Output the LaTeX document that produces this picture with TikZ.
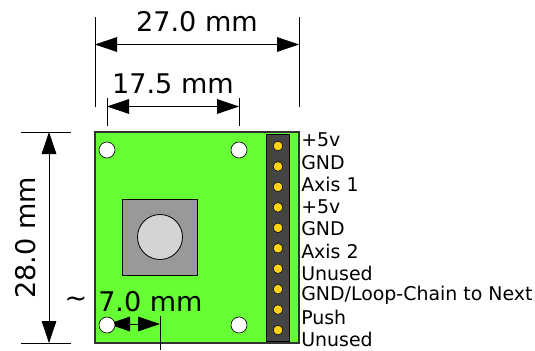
\documentclass[tikz,border=0pt]{standalone}
\usepackage{fontspec}
\setmainfont{DejaVu Sans}
\usetikzlibrary{arrows.meta}
\definecolor{boardgreen}{HTML}{66FF33}
\definecolor{headergray}{HTML}{444444}
\definecolor{pinyellow}{HTML}{FFD414}
\tikzset{
    board/.style = {draw=black!80, fill=boardgreen, line width=0.8pt},
    hole/.style = {circle, draw=black, fill=white, line width=0.5pt, minimum size=12pt, inner sep=0pt},
    pin/.style = {circle, draw=black, fill=pinyellow, line width=0.4pt, minimum size=7.2pt, inner sep=0pt},
    tick/.style = {draw=black, line width=0.6pt},
    dimline/.style = {draw=black, line width=0.6pt, {Triangle[length=16.5pt,width=11pt]}-{Triangle[length=16.5pt,width=11pt]}},
    dimtext/.style = {font=\fontsize{20.3pt}{22pt}\selectfont, inner sep=0pt},
    pinlabel/.style = {font=\fontsize{14.2pt}{16pt}\selectfont, anchor=west, inner sep=0pt}
}
\begin{document}
\begin{tikzpicture}[x=0.75pt, y=-0.75pt]
    \useasboundingbox (0,0) rectangle (535,350);
    % board and parts
    \draw[board] (95,132) rectangle (299,343);
    \draw[draw=black, fill=gray!80!white, line width=0.6pt] (122,199) rectangle (197.5,275);
    \draw[draw=black, fill=black!17, line width=0.6pt] (160,237) circle (22.5);
    \draw[draw=black, fill=headergray, line width=0.6pt] (266,134.5) rectangle (289.5,341);
    % 7.0 mm
    \coordinate (offsetL) at (108,324);
    \coordinate (offsetR) at (160,324);
    \draw[tick] (160,316) -- (160,350);
    \draw[dimline] (offsetL) -- (offsetR);
    \node[dimtext] (approx) at (76,302) {\symbol{126}};
    \node[dimtext, anchor=west] (offsettext) at (98,302) {7.0 mm};
    % holes
    \node[hole] (holeTL) at (107,150) {};
    \node[hole] (holeTR) at (239,150) {};
    \node[hole] (holeBL) at (107,325) {};
    \node[hole] (holeBR) at (239,325) {};
    % header pins and their labels
    \foreach \name [count=\i from 0] in {+5v, GND, Axis 1, +5v, GND, Axis 2, Unused, GND/Loop-Chain to Next, Push, Unused} {
        \node[pin] (pin\i) at (278,146+20.45*\i) {};
        \node[pinlabel] (label\i) at (301,140+22.2*\i) {\name};
    }
    % 27.0 mm
    \coordinate (widthL) at (95,44.5);
    \coordinate (widthR) at (299,44.5);
    \draw[tick] (95,17) -- (95,107);
    \draw[tick] (299,17) -- (299,107);
    \draw[dimline] (widthL) -- (widthR);
    \node[dimtext] (widthtext) at (197,22) {27.0 mm};
    % 17.5 mm
    \coordinate (spanL) at (107,106.5);
    \coordinate (spanR) at (239,106.5);
    \draw[tick] (107,98) -- (107,126);
    \draw[tick] (239,98) -- (239,126);
    \draw[dimline] (spanL) -- (spanR);
    \node[dimtext] (spantext) at (173,84) {17.5 mm};
    % 28.0 mm
    \coordinate (heightT) at (49,132);
    \coordinate (heightB) at (49,343);
    \draw[tick] (21,132) -- (71,132);
    \draw[tick] (21,343) -- (71,343);
    \draw[dimline] (heightT) -- (heightB);
    \node[dimtext, rotate=90] (heighttext) at (26,238) {28.0 mm};
\end{tikzpicture}
\end{document}
